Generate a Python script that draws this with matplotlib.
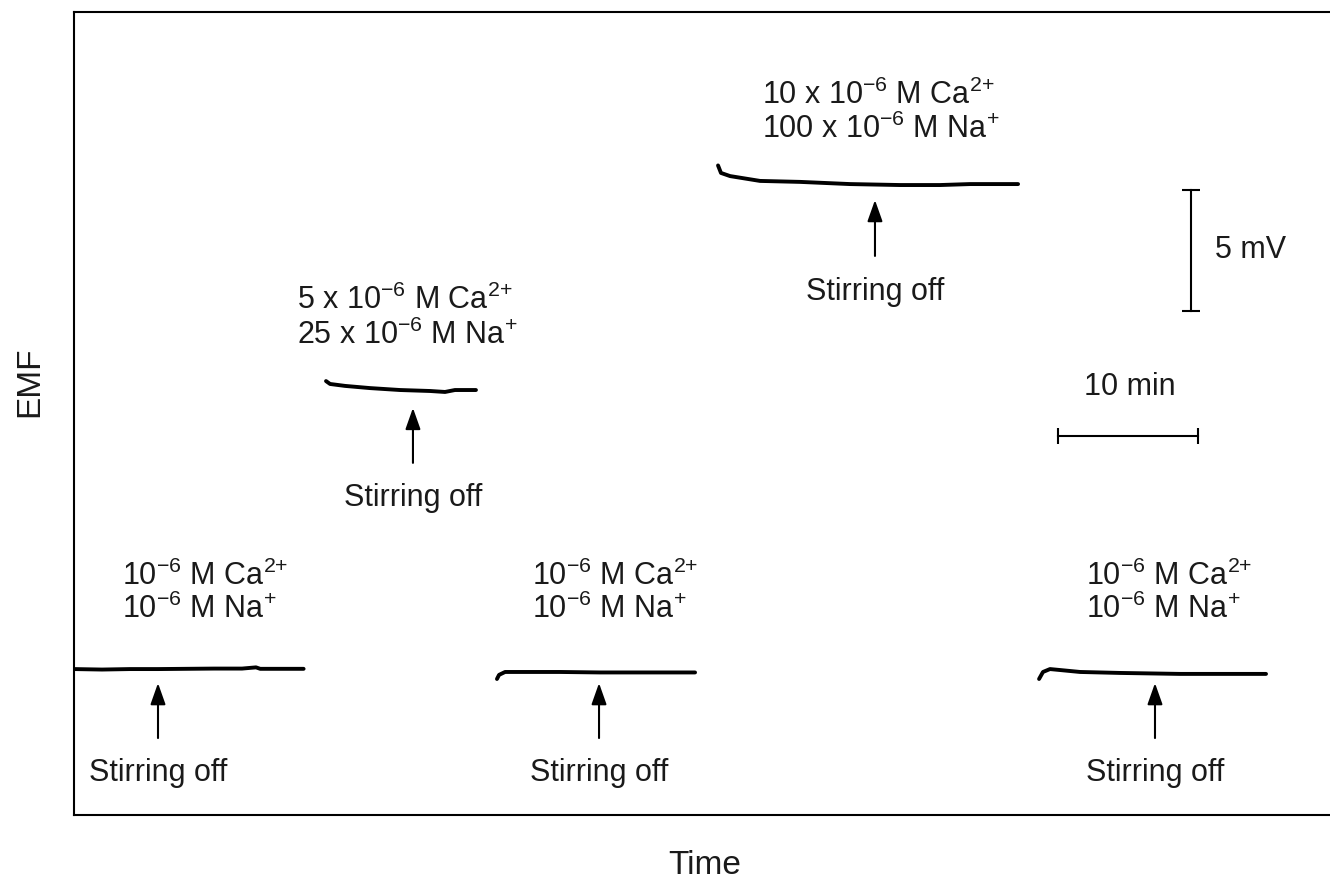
import matplotlib
matplotlib.use('Agg')
import matplotlib.pyplot as plt

plt.rcParams['font.family'] = ['Liberation Sans', 'DejaVu Sans']
plt.rcParams['mathtext.fontset'] = 'custom'
plt.rcParams['mathtext.rm'] = 'Liberation Sans'
plt.rcParams['mathtext.it'] = 'Liberation Sans:italic'
plt.rcParams['mathtext.bf'] = 'Liberation Sans:bold'

# time in min, EMF in mV (arbitrary offset)
t1 = [0, 2, 4, 6, 8, 10, 12, 13, 13.3, 14.5, 16.4]
e1 = [6.03, 6.01, 6.03, 6.03, 6.04, 6.05, 6.05, 6.1, 6.04, 6.04, 6.04]
t2 = [18.0, 18.29, 19.36, 21.14, 23.29, 25.43, 26.5, 27.21, 28.71]
e2 = [17.93, 17.81, 17.73, 17.64, 17.56, 17.52, 17.48, 17.56, 17.56]
t3 = [30.21, 30.36, 30.79, 31.86, 34.71, 37.57, 41.14, 44.36]
e3 = [5.62, 5.79, 5.91, 5.91, 5.91, 5.89, 5.89, 5.89]
t4 = [46.0, 46.21, 46.86, 49.0, 51.86, 55.43, 59.0, 61.86, 64.0, 67.43]
e4 = [26.84, 26.53, 26.4, 26.2, 26.16, 26.07, 26.03, 26.03, 26.07, 26.07]
t5 = [68.93, 69.21, 69.71, 70.43, 71.86, 74.71, 79.0, 82.57, 85.14]
e5 = [5.62, 5.91, 6.03, 5.99, 5.91, 5.87, 5.83, 5.83, 5.83]

traces = [(t1, e1), (t2, e2), (t3, e3), (t4, e4), (t5, e5)]

ca1 = r'$\mathrm{10^{-6}\ M\ Ca^{2{+}}}$'
na1 = r'$\mathrm{10^{-6}\ M\ Na^{{+}}}$'

# concentration labels: (left x, line1 y, line2 y, line1, line2)
labels = [
    (3.43, 9.88, 8.5, ca1, na1),
    (15.93, 21.28, 19.82, r'$\mathrm{5\ x\ 10^{-6}\ M\ Ca^{2{+}}}$',
     r'$\mathrm{25\ x\ 10^{-6}\ M\ Na^{{+}}}$'),
    (32.71, 9.88, 8.5, ca1, na1),
    (49.14, 29.75, 28.35, r'$\mathrm{10\ x\ 10^{-6}\ M\ Ca^{2{+}}}$',
     r'$\mathrm{100\ x\ 10^{-6}\ M\ Na^{{+}}}$'),
    (72.29, 9.88, 8.5, ca1, na1),
]

# stirring-off arrows: x, tip y, tail y, text y
arrow_x = [6.0, 24.21, 37.5, 57.21, 77.21]
arrow_tip = [5.45, 16.82, 5.45, 25.41, 5.45]
arrow_tail = [3.18, 14.55, 3.18, 23.1, 3.18]
stir_y = [1.74, 13.1, 1.74, 21.61, 1.74]

fig = plt.figure(figsize=(13.3, 8.8), dpi=100)
ax = fig.add_axes([74 / 1330, 65 / 880, 1 - 74 / 1330, 803 / 880])
ax.set_xlim(0, 89.71)
ax.set_ylim(0, 33.18)
ax.set_xticks([])
ax.set_yticks([])
ax.spines['right'].set_visible(False)
for s in ['left', 'top', 'bottom']:
    ax.spines[s].set_linewidth(1.5)

for t, e in traces:
    ax.plot(t, e, color='black', lw=2.8, solid_capstyle='round')

for x, y1, y2, l1, l2 in labels:
    ax.text(x, y1, l1, fontsize=22, ha='left', va='center', color='#1a1a1a')
    ax.text(x, y2, l2, fontsize=22, ha='left', va='center', color='#1a1a1a')

for x, tip, tail, ty in zip(arrow_x, arrow_tip, arrow_tail, stir_y):
    ax.annotate('', xy=(x, tip), xytext=(x, tail),
                arrowprops=dict(arrowstyle='-|>,head_length=0.65,head_width=0.23',
                                color='black', lw=1.5,
                                mutation_scale=20, shrinkA=0, shrinkB=0))
    ax.text(x, ty, 'Stirring off', fontsize=22, ha='center', va='center',
            color='#1a1a1a')

# scale bars
ax.plot([79.79, 79.79], [20.83, 25.83], color='black', lw=1.5,
        marker='_', markersize=13, markeredgewidth=1.5)
ax.text(81.5, 23.35, '5 mV', fontsize=22, ha='left', va='center', color='#1a1a1a')
ax.plot([70.29, 80.29], [15.66, 15.66], color='black', lw=1.5,
        marker='|', markersize=11, markeredgewidth=1.5)
ax.text(75.43, 17.69, '10 min', fontsize=22, ha='center', va='center',
        color='#1a1a1a')

fig.text(30 / 1330, 1 - 382 / 880, 'EMF', fontsize=24, rotation=90,
         ha='center', va='center', color='#1a1a1a')
fig.text(705 / 1330, 1 - 865 / 880, 'Time', fontsize=24,
         ha='center', va='center', color='#1a1a1a')

fig.savefig('out.png', dpi=100)
